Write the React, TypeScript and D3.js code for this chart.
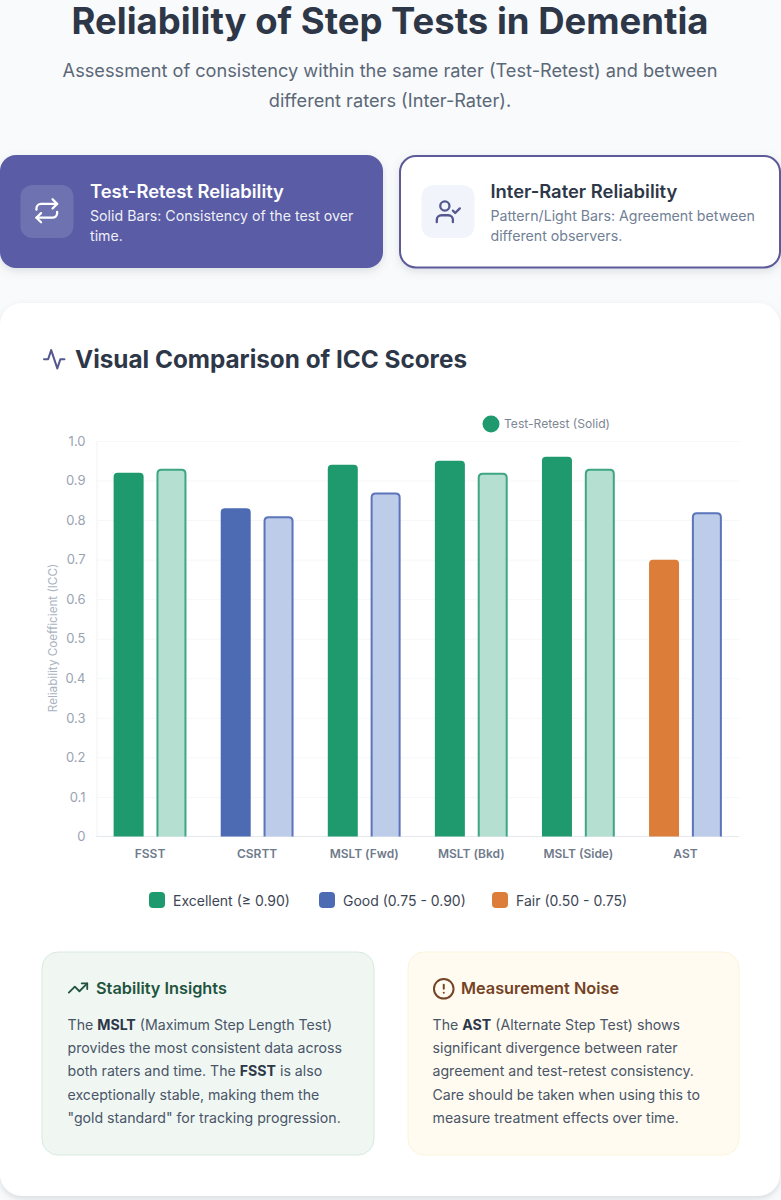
import { useEffect, useRef } from "react";
import * as d3 from "d3";

const categories = ["FSST", "CSRTT", "MSLT (Fwd)", "MSLT (Bkd)", "MSLT (Side)", "AST"];
const testRetest = [0.92, 0.83, 0.94, 0.95, 0.96, 0.7];
const interRater = [0.93, 0.81, 0.87, 0.92, 0.93, 0.82];
const seriesNames = ["testRetest", "interRater"];
const yTicks = [0, 0.1, 0.2, 0.3, 0.4, 0.5, 0.6, 0.7, 0.8, 0.9, 1];

const GREEN = "#1f9a6f";
const BLUE = "#4c6bb3";
const ORANGE = "#dc7d39";
const LIGHT_GREEN = "#b4dfd1";
const LIGHT_BLUE = "#bccce9";
const testColors = [GREEN, BLUE, GREEN, GREEN, GREEN, ORANGE];
const interFills = [LIGHT_GREEN, LIGHT_BLUE, LIGHT_BLUE, LIGHT_GREEN, LIGHT_GREEN, LIGHT_BLUE];
const interStrokes = ["#3ea585", "#5b74ba", "#5b74ba", "#3ea585", "#3ea585", "#5b74ba"];

const legendLabels = ["Excellent (≥ 0.90)", "Good (0.75 - 0.90)", "Fair (0.50 - 0.75)"];
const legendColors = [GREEN, BLUE, ORANGE];
const legendX = [149, 319, 492];

const subtitleLines = [
  "Assessment of consistency within the same rater (Test-Retest) and between",
  "different raters (Inter-Rater).",
];
// [text, bold] runs per line
const stabilityLines: [string, boolean][][] = [
  [["The ", false], ["MSLT", true], [" (Maximum Step Length Test)", false]],
  [["provides the most consistent data across", false]],
  [["both raters and time. The ", false], ["FSST", true], [" is also", false]],
  [["exceptionally stable, making them the", false]],
  [['"gold standard" for tracking progression.', false]],
];
const noiseLines: [string, boolean][][] = [
  [["The ", false], ["AST", true], [" (Alternate Step Test) shows", false]],
  [["significant divergence between rater", false]],
  [["agreement and test-retest consistency.", false]],
  [["Care should be taken when using this to", false]],
  [["measure treatment effects over time.", false]],
];

const FONT = "Inter, sans-serif";
const W = 781;
const H = 1200;

export default function App() {
  const ref = useRef<SVGSVGElement | null>(null);

  useEffect(() => {
    const svg = d3.select(ref.current);
    svg.selectAll("*").remove();
    svg.attr("viewBox", `0 0 ${W} ${H}`).attr("font-family", FONT);

    const defs = svg.append("defs");
    const shadow = (id: string, dy: number, blur: number, op: number) =>
      defs
        .append("filter")
        .attr("id", id)
        .attr("x", "-10%")
        .attr("y", "-10%")
        .attr("width", "120%")
        .attr("height", "125%")
        .append("feDropShadow")
        .attr("dx", 0)
        .attr("dy", dy)
        .attr("stdDeviation", blur)
        .attr("flood-color", "#64748b")
        .attr("flood-opacity", op);
    shadow("cardShadow", 3, 4, 0.2);
    shadow("mainShadow", 3, 3, 0.22);

    svg.append("rect").attr("width", W).attr("height", H).attr("fill", "#f9fafb");

    // header
    svg
      .append("text")
      .attr("x", 390)
      .attr("y", 34)
      .attr("text-anchor", "middle")
      .attr("font-size", 36.5)
      .attr("font-weight", 700)
      .attr("fill", "#2d3748")
      .text("Reliability of Step Tests in Dementia");
    subtitleLines.forEach((t, i) => {
      svg
        .append("text")
        .attr("x", 390)
        .attr("y", 77 + i * 30)
        .attr("text-anchor", "middle")
        .attr("font-size", 18.2)
        .attr("fill", "#5b6878")
        .text(t);
    });

    const icon = (x: number, y: number, scale: number, color: string, draw: (g: any) => void) => {
      const g = svg
        .append("g")
        .attr("transform", `translate(${x},${y}) scale(${scale})`)
        .attr("fill", "none")
        .attr("stroke", color)
        .attr("stroke-width", 2)
        .attr("stroke-linecap", "round")
        .attr("stroke-linejoin", "round");
      draw(g);
    };
    const paths = (...ds: string[]) => (g: any) => ds.forEach((d) => g.append("path").attr("d", d));

    // top cards
    svg
      .append("rect")
      .attr("x", 0)
      .attr("y", 155)
      .attr("width", 383)
      .attr("height", 113)
      .attr("rx", 16)
      .attr("fill", "#5a5da6")
      .attr("filter", "url(#cardShadow)");
    svg
      .append("rect")
      .attr("x", 400)
      .attr("y", 156)
      .attr("width", 380)
      .attr("height", 111.5)
      .attr("rx", 16)
      .attr("fill", "#fff")
      .attr("stroke", "#5b5a98")
      .attr("stroke-width", 2)
      .attr("filter", "url(#cardShadow)");
    svg
      .append("rect")
      .attr("x", 20.5)
      .attr("y", 185)
      .attr("width", 53)
      .attr("height", 53)
      .attr("rx", 12)
      .attr("fill", "#fff")
      .attr("fill-opacity", 0.13);
    svg
      .append("rect")
      .attr("x", 421.5)
      .attr("y", 185)
      .attr("width", 53)
      .attr("height", 53)
      .attr("rx", 12)
      .attr("fill", "#f1f4fa");
    icon(33, 197, 1.15, "#ffffff", paths("m17 2 4 4-4 4", "M3 11v-1a4 4 0 0 1 4-4h14", "m7 22-4-4 4-4", "M21 13v1a4 4 0 0 1-4 4H3"));
    icon(434.5, 198, 1.15, "#55588f", (g) => {
      paths("M16 21v-2a4 4 0 0 0-4-4H6a4 4 0 0 0-4 4v2", "m16 11 2 2 4-4")(g);
      g.append("circle").attr("cx", 9).attr("cy", 7).attr("r", 4);
    });

    const cardText = (x: number, title: string, lines: string[], tc: string, lc: string, op = 1) => {
      svg
        .append("text")
        .attr("x", x)
        .attr("y", 197.5)
        .attr("font-size", 18.4)
        .attr("font-weight", 600)
        .attr("fill", tc)
        .text(title);
      lines.forEach((t, i) => {
        svg
          .append("text")
          .attr("x", x)
          .attr("y", 221 + i * 20)
          .attr("font-size", 14.2)
          .attr("fill", lc)
          .attr("fill-opacity", op)
          .text(t);
      });
    };
    cardText(90, "Test-Retest Reliability", ["Solid Bars: Consistency of the test over", "time."], "#ffffff", "#ffffff", 0.92);
    cardText(490.5, "Inter-Rater Reliability", ["Pattern/Light Bars: Agreement between", "different observers."], "#2d3748", "#718096");

    // main card
    svg
      .append("rect")
      .attr("x", 0)
      .attr("y", 303)
      .attr("width", 780)
      .attr("height", 893)
      .attr("rx", 22)
      .attr("fill", "#fff")
      .attr("filter", "url(#mainShadow)");
    icon(42, 347, 1.02, "#55588f", paths("M22 12h-4l-3 9L9 3l-3 9H2"));
    svg
      .append("text")
      .attr("x", 75)
      .attr("y", 368)
      .attr("font-size", 24.3)
      .attr("font-weight", 700)
      .attr("fill", "#2d3748")
      .text("Visual Comparison of ICC Scores");

    // chart
    const x0 = d3.scaleBand().domain(categories).range([96.5, 739]);
    const x1 = d3
      .scaleBand()
      .domain(seriesNames)
      .range([x0.bandwidth() * 0.1, x0.bandwidth() * 0.9]);
    const y = d3.scaleLinear().domain([0, 1]).range([836.5, 441]);

    const yAxis = d3
      .axisLeft(y)
      .tickValues(yTicks)
      .tickSize(0)
      .tickPadding(11)
      .tickFormat((d) => (+d === 0 ? "0" : d3.format(".1f")(+d)));
    const gy = svg.append("g").attr("transform", "translate(96.5,0)").call(yAxis);
    gy.select(".domain").attr("stroke", "#f0f2f4").attr("stroke-width", 1);
    gy.selectAll("text")
      .attr("font-family", FONT)
      .attr("font-size", 13)
      .attr("fill", "#9aa3b2");
    gy.selectAll(".tick")
      .filter((d) => +(d as number) !== 0)
      .append("line")
      .attr("x2", 642.5)
      .attr("stroke", "#f6f7f8");
    svg
      .append("line")
      .attr("x1", 96.5)
      .attr("x2", 739)
      .attr("y1", y(0))
      .attr("y2", y(0))
      .attr("stroke", "#e5e8ec")
      .attr("stroke-width", 1.2);

    const xAxis = d3.axisBottom(x0).tickSize(0).tickPadding(13);
    const gx = svg.append("g").attr("transform", `translate(0,${y(0)})`).call(xAxis);
    gx.select(".domain").remove();
    gx.selectAll("text")
      .attr("font-family", FONT)
      .attr("font-size", 12)
      .attr("font-weight", 600)
      .attr("fill", "#6f7a8b");

    svg
      .append("text")
      .attr("transform", "translate(57,638) rotate(-90)")
      .attr("text-anchor", "middle")
      .attr("font-size", 11.7)
      .attr("fill", "#a9b2c1")
      .text("Reliability Coefficient (ICC)");

    // rounded-top bars, inset keeps a border inside the bar's value
    const barPath = (cx: number, w: number, v: number, r: number, inset = 0) => {
      const l = cx - w / 2;
      const top = y(v) + inset;
      const p = d3.path();
      p.moveTo(l, y(0));
      p.lineTo(l, top + r);
      p.quadraticCurveTo(l, top, l + r, top);
      p.lineTo(l + w - r, top);
      p.quadraticCurveTo(l + w, top, l + w, top + r);
      p.lineTo(l + w, y(0));
      return p.toString();
    };
    const groups = svg
      .append("g")
      .selectAll("g")
      .data(categories)
      .join("g")
      .attr("transform", (d) => `translate(${x0(d)},0)`);
    groups
      .append("path")
      .attr("d", (_, i) => barPath(x1("testRetest")! + x1.bandwidth() / 2, 30, testRetest[i], 4))
      .attr("fill", (_, i) => testColors[i]);
    groups
      .append("path")
      .attr("d", (_, i) => barPath(x1("interRater")! + x1.bandwidth() / 2, 28, interRater[i], 4, 1))
      .attr("fill", (_, i) => interFills[i])
      .attr("stroke", (_, i) => interStrokes[i])
      .attr("stroke-width", 2);

    // legends
    svg.append("circle").attr("cx", 491).attr("cy", 424).attr("r", 8.5).attr("fill", GREEN);
    svg
      .append("text")
      .attr("x", 504)
      .attr("y", 428)
      .attr("font-size", 12.1)
      .attr("fill", "#7d8694")
      .text("Test-Retest (Solid)");

    legendLabels.forEach((t, i) => {
      svg
        .append("rect")
        .attr("x", legendX[i])
        .attr("y", 892)
        .attr("width", 16)
        .attr("height", 16)
        .attr("rx", 4)
        .attr("fill", legendColors[i]);
      svg
        .append("text")
        .attr("x", legendX[i] + 24)
        .attr("y", 905.5)
        .attr("font-size", 14)
        .attr("fill", "#3d4654")
        .text(t);
    });

    // insight cards
    const insight = (
      x: number,
      w: number,
      fill: string,
      stroke: string,
      title: string,
      titleColor: string,
      titleX: number,
      textX: number,
      lines: [string, boolean][][]
    ) => {
      svg
        .append("rect")
        .attr("x", x)
        .attr("y", 952)
        .attr("width", w)
        .attr("height", 203)
        .attr("rx", 16)
        .attr("fill", fill)
        .attr("stroke", stroke);
      svg
        .append("text")
        .attr("x", titleX)
        .attr("y", 994)
        .attr("font-size", 16.3)
        .attr("font-weight", 600)
        .attr("fill", titleColor)
        .text(title);
      lines.forEach((runs, i) => {
        const t = svg
          .append("text")
          .attr("x", textX)
          .attr("y", 1030 + i * 23.2)
          .attr("font-size", 14.15)
          .attr("fill", "#4a5568");
        runs.forEach(([s, b]) => {
          t.append("tspan")
            .attr("font-weight", b ? 700 : 400)
            .attr("fill", b ? "#2d3748" : "#4a5568")
            .style("white-space", "pre")
            .text(s);
        });
      });
    };
    insight(42, 332, "#f0f7f3", "#d7e9e1", "Stability Insights", "#22543d", 96, 67.5, stabilityLines);
    insight(408, 331, "#fffbf0", "#fbf3dc", "Measurement Noise", "#744225", 461, 432.5, noiseLines);
    icon(67, 977, 0.92, "#22543d", paths("m22 7-8.5 8.5-5-5L2 17", "M16 7h6v6"));
    icon(432, 977, 0.98, "#744225", (g) => {
      g.append("circle").attr("cx", 12).attr("cy", 12).attr("r", 10);
      paths("M12 8v4", "M12 16h.01")(g);
    });
  }, []);

  return (
    <svg
      ref={ref}
      width={W}
      height={H}
      style={{ position: "absolute", left: 0, top: 0, display: "block" }}
    />
  );
}
